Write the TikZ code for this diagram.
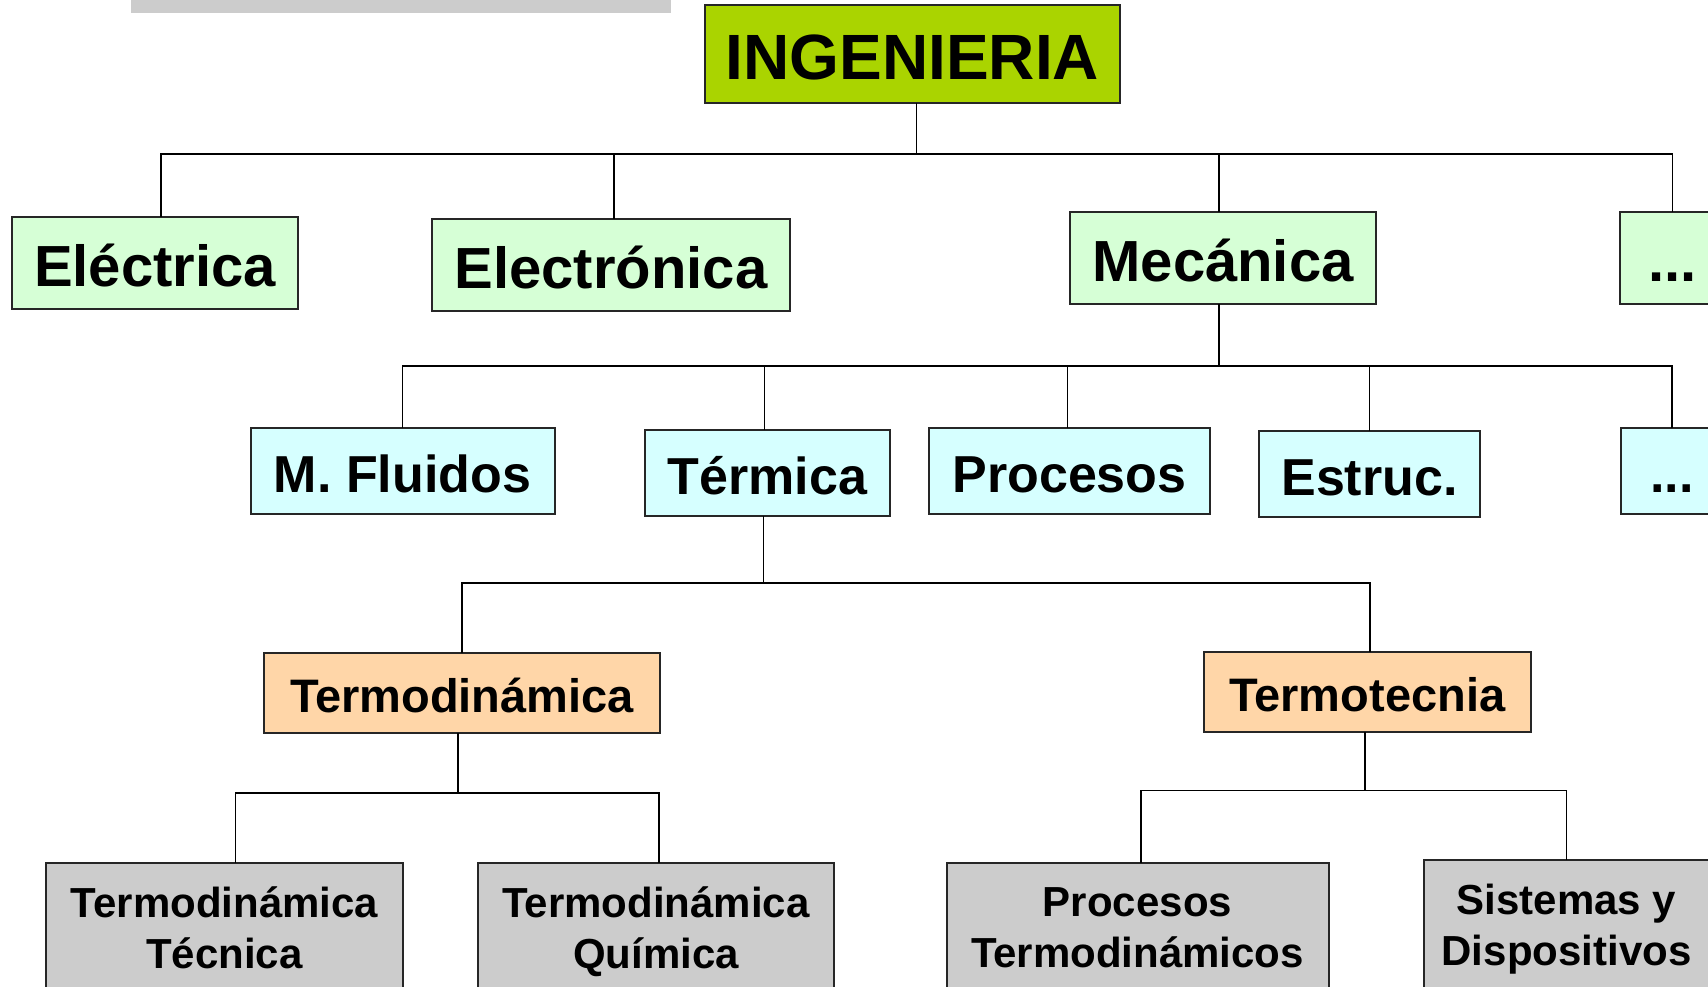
\documentclass[tikz,border=0pt]{standalone}
\usepackage{fontspec}
\setmainfont{Liberation Sans}
\usetikzlibrary{positioning}
\definecolor{verderaiz}{RGB}{170,212,0}
\definecolor{verdeclaro}{RGB}{214,255,214}
\definecolor{cyanclaro}{RGB}{214,255,255}
\definecolor{melocoton}{RGB}{255,214,168}
\definecolor{grisclaro}{RGB}{204,204,204}
\begin{document}
\begin{tikzpicture}[x=1pt, y=-1pt,
				box/.style={rectangle, draw=black!85, line width=2pt, inner sep=0pt, outer sep=0pt, align=center},
				raiz/.style={box, fill=verderaiz, minimum height=98pt, font=\bfseries\fontsize{64}{70}\selectfont, text height=52pt, text depth=0pt},
				rama/.style={box, fill=verdeclaro, minimum height=92pt, font=\bfseries\fontsize{58}{64}\selectfont, text height=47pt, text depth=0pt},
				sub/.style={box, fill=cyanclaro, minimum height=86pt, font=\bfseries\fontsize{52}{58}\selectfont, text height=43pt, text depth=0pt},
				area/.style={box, fill=melocoton, minimum height=80pt, font=\bfseries\fontsize{47}{52}\selectfont, text height=39pt, text depth=0pt},
				tema/.style={box, fill=grisclaro, minimum height=130pt, font=\bfseries\fontsize{42}{51}\selectfont, text depth=0pt},
				conn/.style={line width=1.5pt, black}
			]
			\useasboundingbox (0,0) rectangle (1708,987);
			\fill[grisclaro] (131,0) rectangle (671,13);
			\node[raiz, minimum width=415pt] (ingenieria) at (912.5,54) {INGENIERIA};
			\node[rama, minimum width=286pt] (electrica) at (155,263) {Eléctrica};
			\node[rama, minimum width=358pt] (electronica) [right=134pt of electrica, yshift=-2pt] {Electrónica};
			\node[rama, minimum width=306pt] (mecanica) [right=280pt of electronica, yshift=7pt] {Mecánica};
			\node[rama, minimum width=105pt] (dotsone) [right=244pt of mecanica] {...};
			\node[sub, minimum width=304pt] (fluidos) at (402.5,471) {M. Fluidos};
			\node[sub, minimum width=245pt] (termica) [right=90.5pt of fluidos, yshift=-2pt] {Térmica};
			\node[sub, minimum width=281pt] (procesos) [right=39pt of termica, yshift=2pt] {Procesos};
			\node[sub, minimum width=221pt] (estruc) [right=49pt of procesos, yshift=-3pt] {Estruc.};
			\node[sub, minimum width=102pt] (dotstwo) [right=141pt of estruc, yshift=3pt] {...};
			\node[area, minimum width=396pt] (termodinamica) at (462,693) {Termodinámica};
			\node[area, minimum width=327pt] (termotecnia) [right=543.7pt of termodinamica, yshift=1.5pt] {Termotecnia};
			\node[tema, minimum width=357pt] (tecnica) at (224.5,928) {Termodinámica\\Técnica};
			\node[tema, minimum width=356pt] (quimica) [right=75pt of tecnica] {Termodinámica\\Química};
			\node[tema, minimum width=382pt] (proctermo) [right=112.5pt of quimica] {Procesos\\Termodinámicos};
			\node[tema, minimum width=286pt] (sistemas) [right=95pt of proctermo, yshift=3pt] {Sistemas y\\Dispositivos};
			\coordinate (busone) at ([xshift=4pt, yshift=-51pt]ingenieria.south);
			\coordinate (bustwo) at ([xshift=-4pt, yshift=-62pt]mecanica.south);
			\coordinate (busthree) at ([xshift=-4pt, yshift=-67pt]termica.south);
			\coordinate (busfour) at ([xshift=-4pt, yshift=-60pt]termodinamica.south);
			\coordinate (busfive) at ([xshift=-2pt, yshift=-59pt]termotecnia.south);
			\begin{scope}[conn]
			\draw ([xshift=4pt]ingenieria.south) -- (busone);
			\draw (busone) -| ([xshift=6pt]electrica.north);
			\draw (busone) -| ([xshift=3pt]electronica.north);
			\draw (busone) -| ([xshift=-4pt]mecanica.north);
			\draw (busone) -| (dotsone.north);
			\draw ([xshift=-4pt]mecanica.south) -- (bustwo);
			\foreach \n in {fluidos,estruc,dotstwo}
				\draw (bustwo) -| (\n.north);
			\draw (bustwo) -| ([xshift=-3pt]termica.north);
			\draw (bustwo) -| ([xshift=-2pt]procesos.north);
			\draw ([xshift=-4pt]termica.south) -- (busthree);
			\draw (busthree) -| (termodinamica.north);
			\draw (busthree) -| ([xshift=3pt]termotecnia.north);
			\draw ([xshift=-4pt]termodinamica.south) -- (busfour);
			\draw (busfour) -| ([xshift=11pt]tecnica.north);
			\draw (busfour) -| ([xshift=3pt]quimica.north);
			\draw ([xshift=-2pt]termotecnia.south) -- (busfive);
			\draw (busfive) -| ([xshift=3.5pt]proctermo.north);
			\draw (busfive) -| (sistemas.north);
			\end{scope}
			\end{tikzpicture}
\end{document}
